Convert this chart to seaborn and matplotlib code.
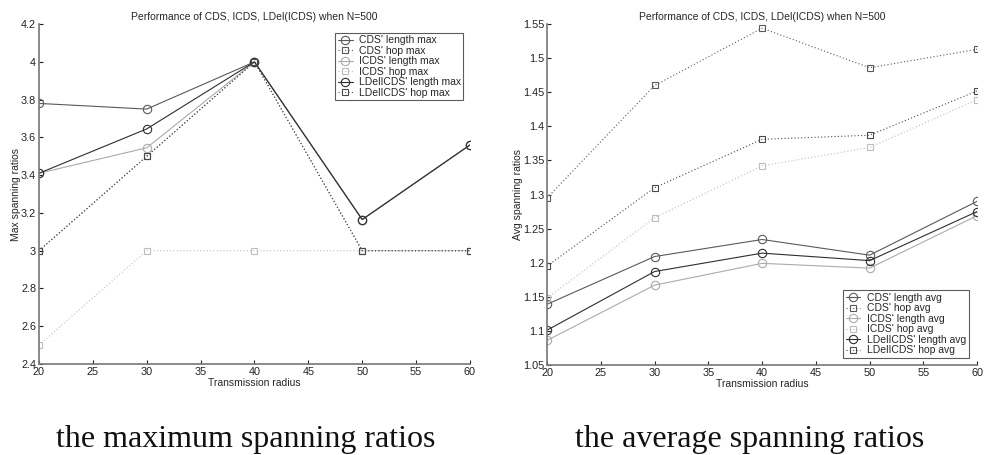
import matplotlib
matplotlib.use('Agg')
import matplotlib.pyplot as plt
import seaborn as sns
from matplotlib.ticker import FormatStrFormatter

# Data
radius = [20, 30, 40, 50, 60]

# maximum spanning ratios
cds_len_max = [3.78, 3.75, 4.0, 3.165, 3.56]
cds_hop_max = [3.0, 3.5, 4.0, 3.0, 3.0]
icds_len_max = [3.41, 3.545, 4.0, 3.165, 3.56]
icds_hop_max = [2.5, 3.0, 3.0, 3.0, 3.0]
ldel_len_max = [3.41, 3.645, 4.0, 3.165, 3.56]
ldel_hop_max = [3.0, 3.5, 4.0, 3.0, 3.0]

# average spanning ratios
cds_len_avg = [1.139, 1.209, 1.234, 1.211, 1.290]
cds_hop_avg = [1.295, 1.460, 1.544, 1.486, 1.513]
icds_len_avg = [1.086, 1.167, 1.199, 1.192, 1.269]
icds_hop_avg = [1.148, 1.266, 1.342, 1.369, 1.439]
ldel_len_avg = [1.101, 1.187, 1.214, 1.203, 1.275]
ldel_hop_avg = [1.195, 1.310, 1.381, 1.387, 1.452]

labels_max = ["CDS' length max", "CDS' hop max", "ICDS' length max",
              "ICDS' hop max", "LDelICDS' length max", "LDelICDS' hop max"]
labels_avg = ["CDS' length avg", "CDS' hop avg", "ICDS' length avg",
              "ICDS' hop avg", "LDelICDS' length avg", "LDelICDS' hop avg"]

title = 'Performance of CDS, ICDS, LDel(ICDS) when N=500'

sns.set_theme(style='ticks')
plt.rcParams['font.family'] = ['Liberation Sans', 'DejaVu Sans']

# colour / style of each series (same order as the labels)
dot = (0, (1, 2))
colors = ['#5a5a5a', '#5a5a5a', '#ababab', '#bdbdbd', '#2e2e2e', '#4a4a4a']
styles = ['-', dot, '-', dot, '-', dot]
marks = ['o', 's', 'o', 's', 'o', 's']
msizes = [6, 4.5, 6, 4.5, 6, 4.5]

fig = plt.figure(figsize=(9.84, 4.55), dpi=100)
ax1 = fig.add_axes([0.0396, 0.2, 0.438, 0.747])
ax2 = fig.add_axes([0.556, 0.198, 0.437, 0.749])


def draw(ax, series, labels, ylim, yticks, ylabel, loc, anchor):
    for vals, lab, c, ls, m, ms in zip(series, labels, colors, styles, marks, msizes):
        sns.lineplot(x=radius, y=vals, ax=ax, color=c, linestyle=ls, linewidth=0.8,
                     marker=m, markersize=ms, markerfacecolor='none',
                     markeredgecolor=c, markeredgewidth=0.8, label=lab)
    ax.set_xlim(20, 60)
    ax.set_ylim(*ylim)
    ax.set_xticks(range(20, 61, 5))
    ax.set_yticks(yticks)
    ax.yaxis.set_major_formatter(FormatStrFormatter('%g'))
    ax.tick_params(direction='in', length=3, width=0.8, labelsize=7.8,
                   colors='#222222', pad=2)
    for side in ['top', 'right']:
        ax.spines[side].set_visible(False)
    for side in ['left', 'bottom']:
        ax.spines[side].set_color('#777777')
        ax.spines[side].set_linewidth(1.2)
    ax.set_xlabel('Transmission radius', fontsize=7.5, labelpad=1)
    ax.set_ylabel(ylabel, fontsize=7.5, labelpad=0)
    ax.set_title(title, fontsize=7.5, pad=3)
    leg = ax.legend(loc=loc, bbox_to_anchor=anchor, fontsize=7.5, frameon=True,
                    fancybox=False, edgecolor='#333333', handlelength=1.4,
                    handletextpad=0.6, borderpad=0.25, labelspacing=0.05,
                    borderaxespad=0)
    leg.get_frame().set_linewidth(0.8)


draw(ax1, [cds_len_max, cds_hop_max, icds_len_max, icds_hop_max, ldel_len_max, ldel_hop_max],
     labels_max, (2.4, 4.2), [2.4, 2.6, 2.8, 3.0, 3.2, 3.4, 3.6, 3.8, 4.0, 4.2],
     'Max spanning ratios', 'upper right', (0.985, 0.975))
draw(ax2, [cds_len_avg, cds_hop_avg, icds_len_avg, icds_hop_avg, ldel_len_avg, ldel_hop_avg],
     labels_avg, (1.05, 1.55), [1.05, 1.1, 1.15, 1.2, 1.25, 1.3, 1.35, 1.4, 1.45, 1.5, 1.55],
     'Avg spanning ratios', 'lower right', (0.98, 0.02))

fig.text(0.2495, 0.0165, 'the maximum spanning ratios', ha='center', va='baseline',
         fontsize=23, family='Liberation Serif', color='#111111')
fig.text(0.762, 0.0175, 'the average spanning ratios', ha='center', va='baseline',
         fontsize=23, family='Liberation Serif', color='#111111')

fig.savefig('out.png', dpi=100, facecolor='white')
